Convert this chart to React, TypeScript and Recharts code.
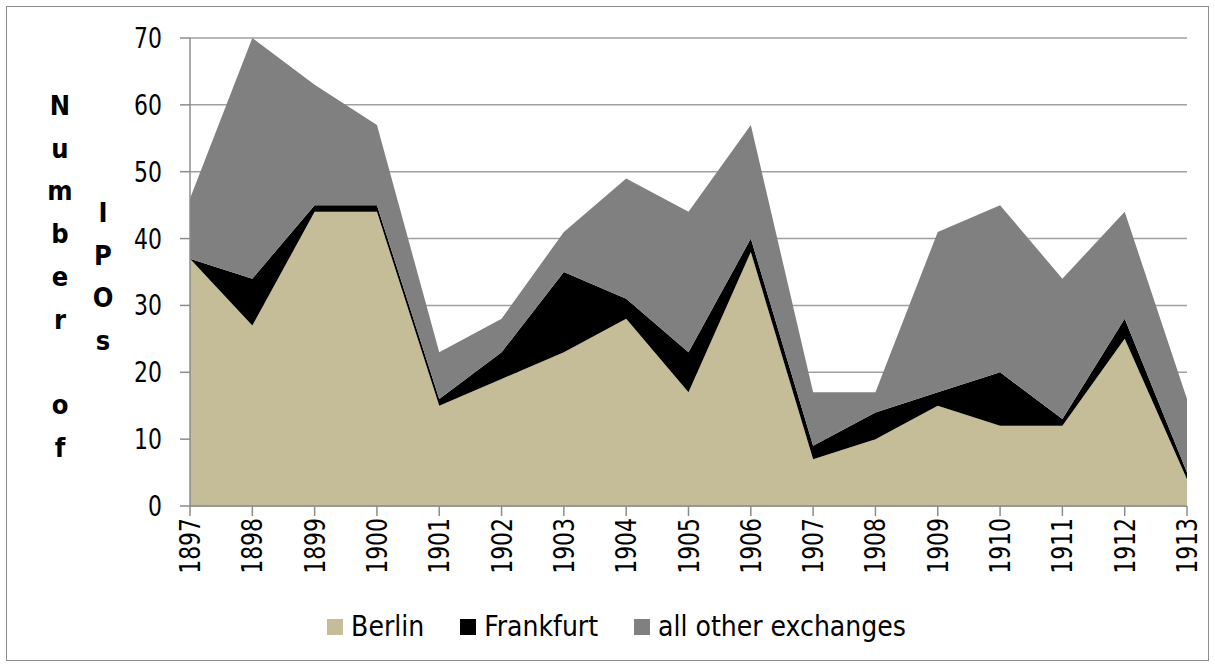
import React from 'react';
import { AreaChart, Area, XAxis, YAxis, CartesianGrid, Legend } from 'recharts';

const years = ['1897','1898','1899','1900','1901','1902','1903','1904','1905','1906','1907','1908','1909','1910','1911','1912','1913'];
const berlin = [37, 27, 44, 44, 15, 19, 23, 28, 17, 38, 7, 10, 15, 12, 12, 25, 4];
const frankfurt = [0, 7, 1, 1, 1, 4, 12, 3, 6, 2, 2, 4, 2, 8, 1, 3, 1];
const others = [9, 36, 18, 12, 7, 5, 6, 18, 21, 17, 8, 3, 24, 25, 21, 16, 11];
const yTicks = [0, 10, 20, 30, 40, 50, 60, 70];
const seriesNames = ['Berlin', 'Frankfurt', 'all other exchanges'];
const seriesKeys = ['berlin', 'frankfurt', 'others'];
const seriesColors = ['#C4BD97', '#000000', '#808080'];
const yLabelCol1 = ['N', 'u', 'm', 'b', 'e', 'r', '', 'o', 'f'];
const yLabelCol2 = ['I', 'P', 'O', 's'];

const data = years.map((y, i) => ({ year: y, berlin: berlin[i], frankfurt: frankfurt[i], others: others[i] }));

const FONT = '"Liberation Sans Narrow", "Arial Narrow", "DejaVu Sans Condensed", sans-serif';
const NARROW = 0.87;

const XTick = (props: any) => {
  const { x, y, payload } = props;
  return (
    <g transform={`translate(${x},${y})`}>
      <text transform={`rotate(-90) scale(${NARROW},1)`} x={0} y={0} dy={10} textAnchor="end" fill="#000" fontSize={28} fontFamily={FONT}>
        {payload.value}
      </text>
    </g>
  );
};

const YTick = (props: any) => {
  const { x, y, payload } = props;
  return (
    <g transform={`translate(${x},${y})`}>
      <text transform={`scale(${NARROW},1)`} x={0} y={0} dy={10} textAnchor="end" fill="#000" fontSize={28} fontFamily={FONT}>
        {payload.value}
      </text>
    </g>
  );
};

const YLabel = () => (
  <g fontFamily={FONT} fontSize={27} fontWeight="bold" fill="#000" textAnchor="middle">
    {yLabelCol1.map((c, i) => (
      <text key={'a' + i} x={60} y={115 + i * 42.7}>{c}</text>
    ))}
    {yLabelCol2.map((c, i) => (
      <text key={'b' + i} x={103} y={222 + i * 42.7}>{c}</text>
    ))}
  </g>
);

const LegendContent = () => (
  <div style={{ display: 'flex', justifyContent: 'center', alignItems: 'center', fontFamily: FONT, fontSize: 28, color: '#000', width: 1215, paddingLeft: 18, boxSizing: 'border-box' }}>
    {seriesNames.map((n, i) => (
      <div key={n} style={{ display: 'flex', alignItems: 'center', marginRight: i < 2 ? 36 : 0 }}>
        <div style={{ width: 16, height: 16, background: seriesColors[i], marginRight: 8 }} />
        <span>{n}</span>
      </div>
    ))}
  </div>
);

export default function App() {
  return (
    <div style={{ position: 'absolute', left: 0, top: 0, width: 1215, height: 667, background: '#fff' }}>
      <div style={{ position: 'absolute', left: 6, top: 6, width: 1201, height: 653, border: '1.5px solid #8c8c8c' }} />
      <div style={{ position: 'absolute', left: 0, top: 0 }}>
        <AreaChart width={1215} height={667} data={data} margin={{ top: 38, right: 28, left: 0, bottom: 0 }}>
          <CartesianGrid vertical={false} stroke="#A0A0A0" strokeWidth={1.5} />
          <XAxis dataKey="year" tick={<XTick />} tickSize={10} tickMargin={2} height={125} interval={0}
            stroke="#8c8c8c" strokeWidth={1.5} tickLine={{ stroke: '#8c8c8c' }} />
          <YAxis domain={[0, 70]} ticks={yTicks} width={190} tickSize={10} tickMargin={18} interval={0}
            stroke="#8c8c8c" strokeWidth={1.5}
            tick={<YTick />}
            label={{ content: () => <YLabel /> }} />
          {seriesKeys.map((k, i) => (
            <Area key={k} type="linear" dataKey={k} name={seriesNames[i]} stackId="1" stroke="none"
              fill={seriesColors[i]} fillOpacity={1} isAnimationActive={false} />
          ))}
          <Legend content={<LegendContent />} wrapperStyle={{ position: 'absolute', left: 0, top: 610, width: 1215, height: 36 }} />
        </AreaChart>
      </div>
    </div>
  );
}
